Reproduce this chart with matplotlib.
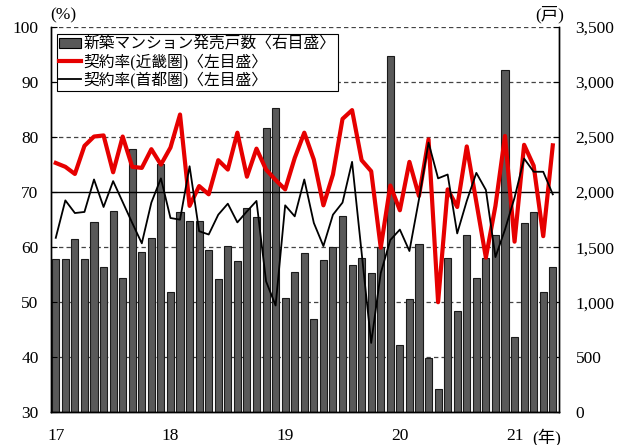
import matplotlib
matplotlib.use("Agg")
import matplotlib.pyplot as plt
from matplotlib.patches import Patch
from matplotlib.lines import Line2D
import numpy as np

plt.rcParams['font.family'] = ['Liberation Serif', 'Noto Sans CJK JP', 'DejaVu Sans']

# Monthly data, Jan 2017 - May 2021
units = [1394, 1394, 1573, 1394, 1733, 1324, 1833, 1218, 2390, 1460, 1582, 2254,
         1091, 1818, 1742, 1742, 1475, 1209, 1515, 1375, 1857, 1775, 2587, 2764,
         1039, 1275, 1445, 851, 1382, 1500, 1787, 1336, 1406, 1269, 1500, 3240,
         612, 1033, 1527, 491, 209, 1406, 921, 1612, 1224, 1406, 1612, 3105,
         688, 1718, 1818, 1094, 1321]
kinki = [75.3, 74.6, 73.3, 78.4, 80.1, 80.3, 73.6, 80.1, 74.6, 74.4, 77.8, 75.0,
         78.1, 84.1, 67.5, 71.1, 69.6, 75.8, 74.1, 80.8, 72.8, 77.9, 74.1, 72.2,
         70.5, 76.2, 80.8, 75.9, 67.6, 73.2, 83.3, 84.9, 75.8, 73.8, 59.9, 71.2,
         66.7, 75.5, 69.3, 79.6, 50.0, 70.5, 67.3, 78.3, 68.2, 58.1, 67.5, 80.2,
         61.0, 78.6, 74.8, 62.0, 78.5]
shuto = [61.7, 68.5, 66.2, 66.4, 72.3, 67.3, 72.0, 68.2, 64.4, 60.7, 68.1, 72.5,
         65.3, 65.0, 74.7, 62.9, 62.3, 65.9, 67.9, 64.5, 66.5, 68.4, 53.8, 49.4,
         67.6, 65.6, 72.3, 64.4, 60.2, 65.9, 68.1, 75.5, 59.0, 42.6, 55.3, 61.3,
         63.2, 59.3, 68.7, 79.0, 72.5, 73.2, 62.5, 68.4, 73.5, 70.4, 58.2, 63.2,
         69.0, 76.1, 73.7, 73.7, 69.6]
year_ticks = [0, 12, 24, 36, 48]
year_labels = ['17', '18', '19', '20', '21']
left_ticks = [30, 40, 50, 60, 70, 80, 90, 100]
right_ticks = [0, 500, 1000, 1500, 2000, 2500, 3000, 3500]
labels = ['新築マンション発売戸数〈右目盛〉', '契約率(近畿圏)〈左目盛〉', '契約率(首都圏)〈左目盛〉']

W, H = 626, 445
fig = plt.figure(figsize=(W / 100, H / 100), dpi=100)
L, R, T, B = 51, 559, 27, 412.3
ax = fig.add_axes([L / W, 1 - B / H, (R - L) / W, (B - T) / H])
ax2 = ax.twinx()

x = np.arange(len(units))
bar_color = '#595959'

# grid lines (below bars)
for v in right_ticks[1:]:
    if v == 2000:
        continue
    ax2.axhline(v, color='#444444', lw=0.9, ls=(0, (3.5, 2.5)), zorder=0.5)
ax2.bar(x, units, width=0.74, color=bar_color, edgecolor='#1a1a1a', linewidth=0.8, zorder=2)
ax2.axhline(2000, color='black', lw=1.0, zorder=3)
ax2.set_ylim(0, 3500)
ax2.set_yticks(right_ticks)
ax2.set_yticklabels([f'{v:,}' for v in right_ticks])
ax2.tick_params(axis='y', direction='in', length=4, pad=12, labelsize=12.5)

ax.set_zorder(ax2.get_zorder() + 1)
ax.patch.set_visible(False)
ax.plot(x, kinki, color='#e60000', lw=3.0, zorder=4)
ax.plot(x, shuto, color='black', lw=1.3, zorder=5)
ax.set_ylim(30, 100)
ax.set_xlim(-0.5, 52.65)
ax.set_yticks(left_ticks)
ax.tick_params(axis='y', direction='in', length=4, pad=9, labelsize=12.5)
ax.set_xticks(year_ticks)
ax.set_xticklabels(year_labels)
ax.tick_params(axis='x', length=0, pad=11, labelsize=12.5)

for a in (ax, ax2):
    a.spines['top'].set_visible(False)
    for s in ('left', 'right', 'bottom'):
        a.spines[s].set_linewidth(1.0)

fig.text(63 / W, 1 - 15 / H, '(%)', ha='center', va='center', fontsize=12.5)
fig.text(550 / W, 1 - 15 / H, '(戸)', ha='center', va='center', fontsize=12.5)
fig.text(547 / W, 1 - 437 / H, '(年)', ha='center', va='center', fontsize=12.5)

handles = [Patch(facecolor=bar_color, edgecolor='black', linewidth=0.8),
           Line2D([], [], color='#e60000', lw=3.0),
           Line2D([], [], color='black', lw=1.3)]
leg = ax.legend(handles, labels, loc='upper left', bbox_to_anchor=(0.012, 0.982),
                borderaxespad=0, fontsize=11.3, handlelength=1.4, handleheight=0.6,
                handletextpad=0.15, labelspacing=0.08, borderpad=0.15,
                frameon=True, fancybox=False, framealpha=1, edgecolor='black')
leg.get_frame().set_linewidth(0.8)
leg.set_zorder(10)

fig.savefig('out.png', dpi=100)
